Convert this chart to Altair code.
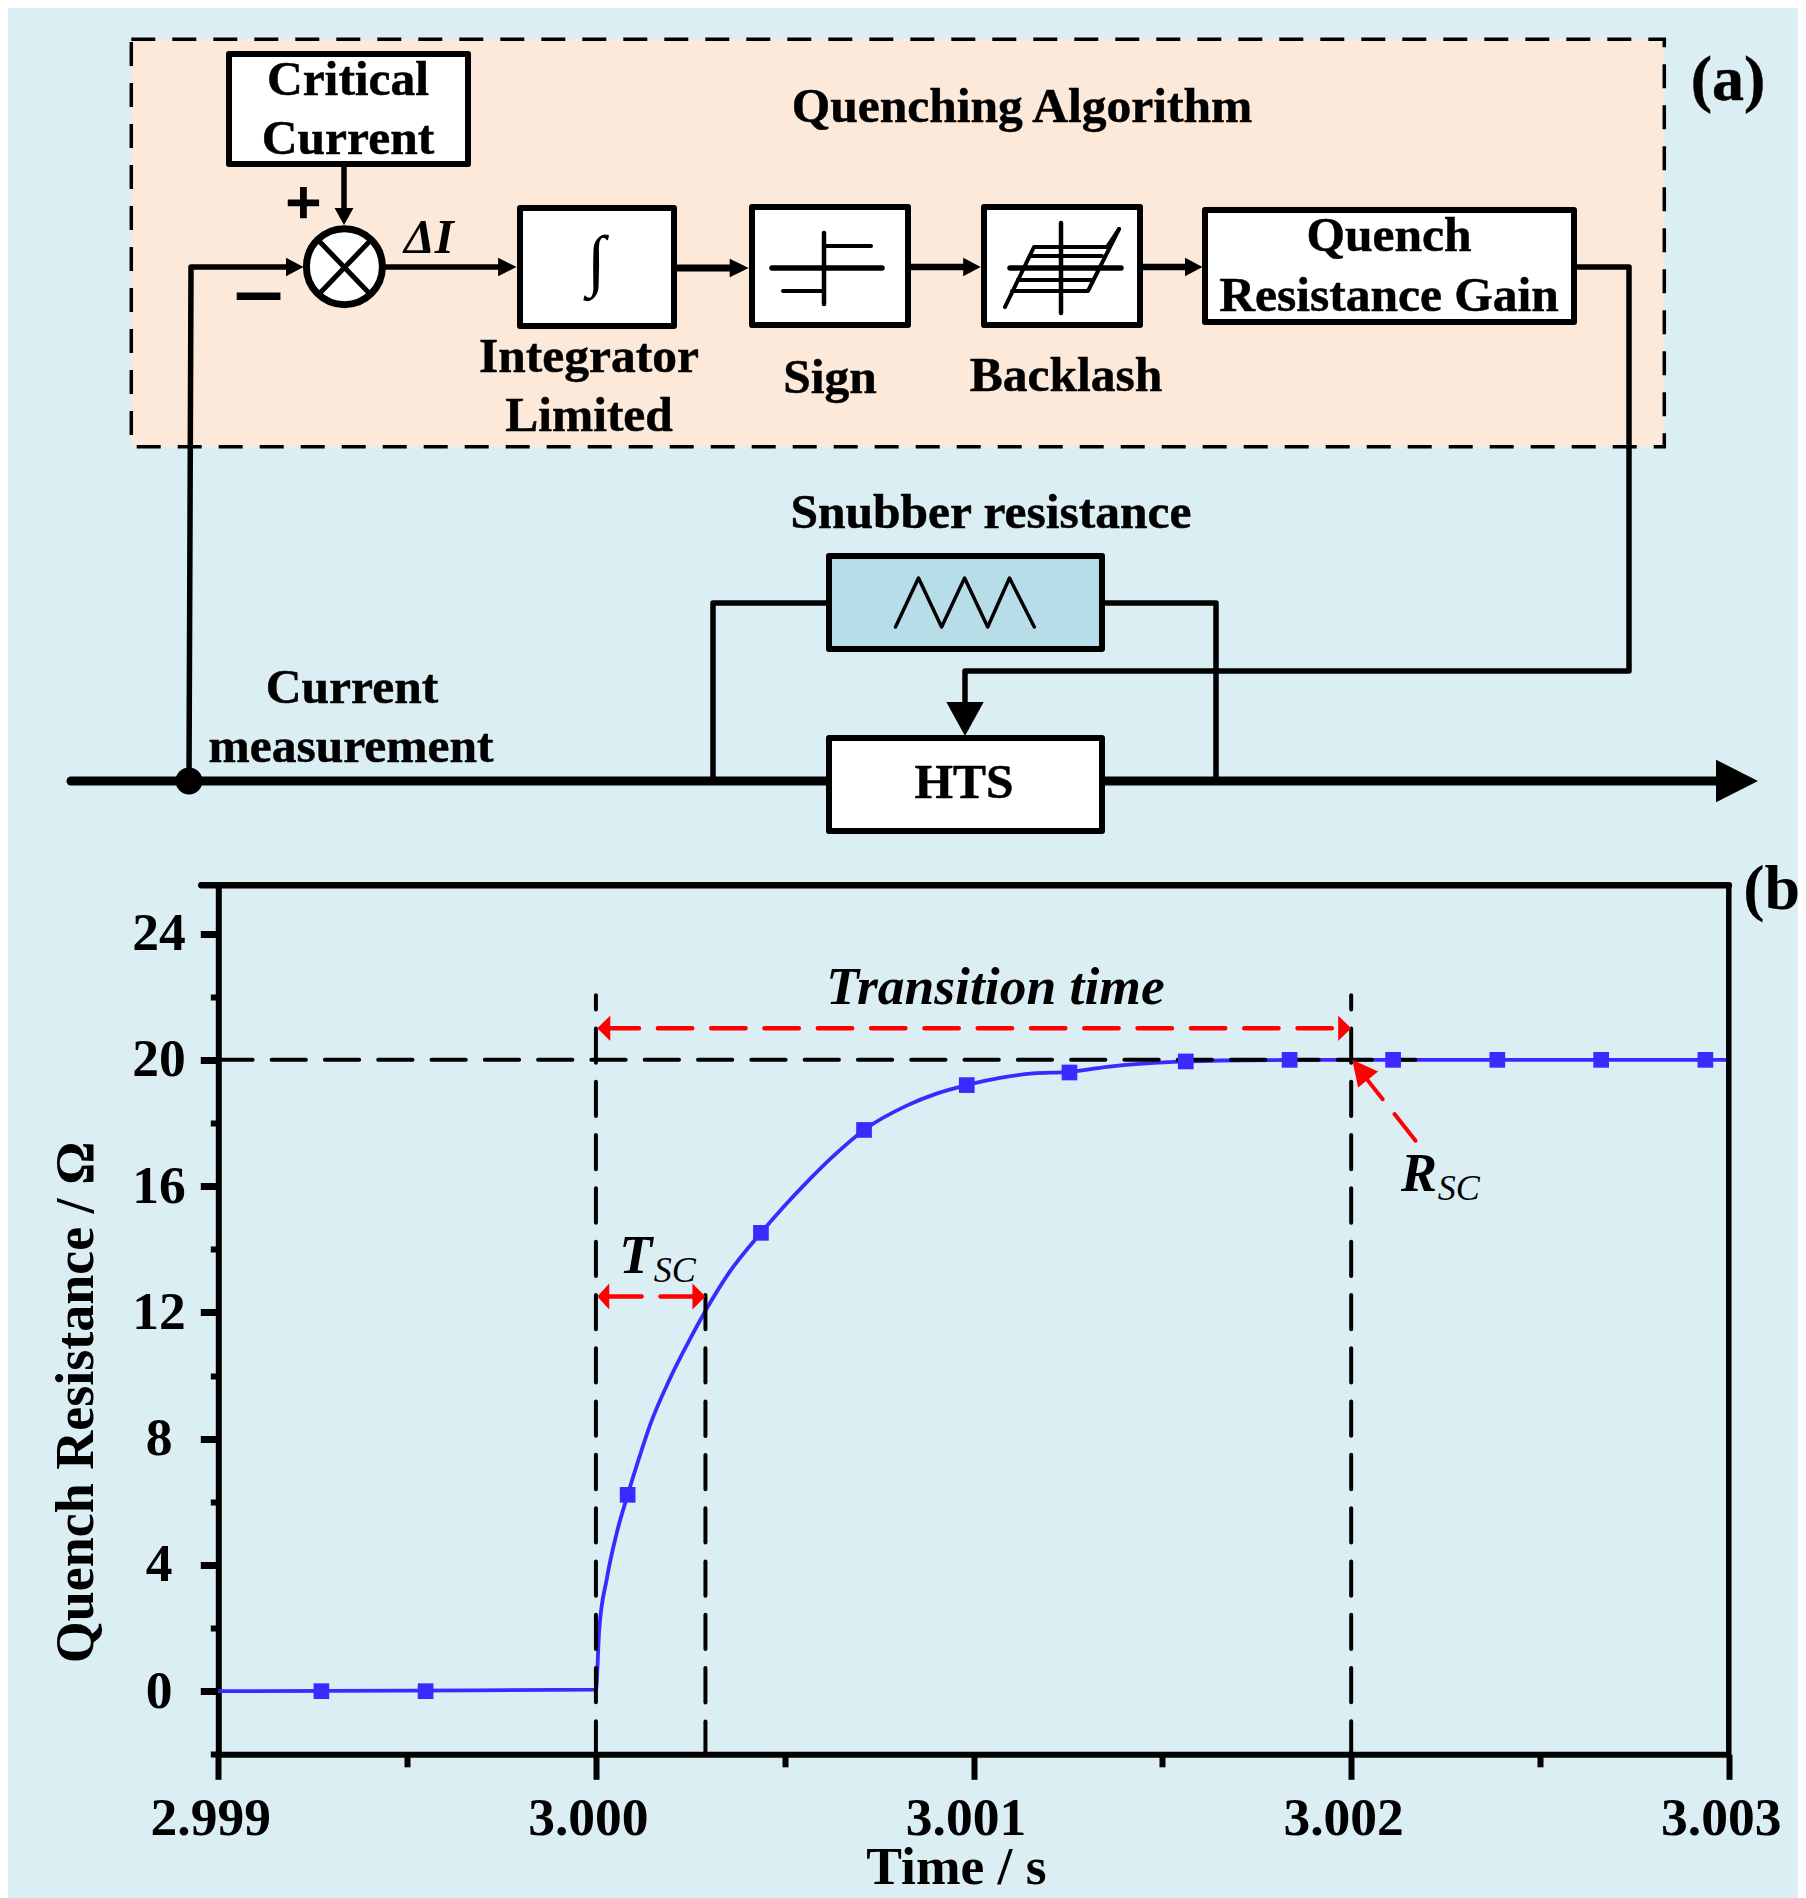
import altair as alt
import pandas as pd

FONT = "Liberation Serif"
BG = "#DAEEF3"
ORANGE = "#FDE9D9"
AQUA = "#B6DDE8"
BLUE = "#3B2AFF"
RED = "#FF0000"

# ---------- curve of panel (b) ----------
LINE_X = [2.999, 2.9995, 3.0, 3.0000087, 3.0000283, 3.0000548, 3.000084, 3.0001165, 3.000143, 3.000196,
          3.000249, 3.000292, 3.000355, 3.000437, 3.000496, 3.000558, 3.0006285, 3.00071, 3.000823,
          3.000902, 3.000982, 3.00107, 3.001158, 3.001254, 3.0013534, 3.001458, 3.001562, 3.001653,
          3.00185, 3.003]
LINE_Y = [0, 0.02, 0.05, 1.94, 3.53, 5.0, 6.22, 7.47, 8.42, 9.9, 11.15, 12.09, 13.3, 14.52, 15.33,
          16.12, 16.95, 17.78, 18.55, 18.93, 19.2, 19.43, 19.57, 19.62, 19.78, 19.89, 19.95, 19.98, 20, 20]
MARK_X = [2.999273, 2.999549, 3.000084, 3.000437, 3.00071, 3.000982, 3.001254, 3.001562, 3.001837,
          3.002111, 3.002387, 3.002662, 3.002938]
MARK_Y = [0, 0, 6.22, 14.52, 17.78, 19.2, 19.6, 19.95, 20, 20, 20, 20, 20]
X_MAJOR = [2.999, 3.0, 3.001, 3.002, 3.003]
X_MINOR = [2.9995, 3.0005, 3.0015, 3.0025]
Y_MAJOR = [0, 4, 8, 12, 16, 20, 24]
Y_MINOR = [-2, 2, 6, 10, 14, 18, 22]
X_DOMAIN = [2.999, 3.003]
Y_DOMAIN = [-2.0, 25.53]

# ---------- schematic of panel (a), in sheet units ----------
BOX_X = [229, 520, 752, 984, 1205, 829, 829]
BOX_X2 = [468, 674, 908, 1140, 1574, 1102, 1102]
BOX_Y = [54, 208, 207, 207, 210, 556, 738]
BOX_Y2 = [164, 326, 325, 325, 322, 649, 831]
BOX_FILL = ["white", "white", "white", "white", "white", AQUA, "white"]

WIRES = [
    ([189, 191, 290], [781, 267, 267], 5.5),
    ([344, 344], [164, 212], 5.5),
    ([385, 500], [267, 267], 5.5),
    ([674, 732], [268, 268], 7),
    ([908, 965], [267, 267], 6.5),
    ([1140, 1187], [267, 267], 6.5),
    ([1574, 1629, 1629, 965, 965], [267, 267, 671, 671, 705], 5.5),
    ([71, 1720], [781, 781], 9),
    ([829, 713, 713], [603, 603, 781], 5.5),
    ([1102, 1216, 1216], [603, 603, 781], 5.5),
]
GLYPHS = [
    ([772, 882], [268, 268], 5.5), ([824, 824], [233, 304], 4.5),
    ([824, 871], [246, 246], 4), ([783, 824], [291, 291], 4),
    ([1010, 1121], [268, 268], 5.5), ([1061, 1061], [223, 313], 4.5),
    ([1119, 1107, 1034, 1005], [229, 247, 247, 307], 4),
    ([1119, 1088, 1012], [229, 291, 291], 4),
    ([1030, 1102], [256, 256], 4), ([1018, 1093], [280, 280], 4),
    ([895.5, 918.5, 941.6, 964.6, 987.7, 1009.5, 1034.3], [627, 578, 627, 578, 627, 578, 627], 3.5),
    ([320, 369], [242, 293], 5), ([369, 320], [242, 293], 5),
]
HEAD_X = [344, 303.5, 516.6, 748.7, 980.7, 1202.5, 965, 1758]
HEAD_Y = [225, 267, 267, 268, 267, 267, 736, 781]
HEAD_PATH = [
    "M0 0 L-9.5 -17 L9.5 -17 Z",
    "M0 0 L-17.5 -9.3 L-17.5 9.3 Z",
    "M0 0 L-18.5 -9.3 L-18.5 9.3 Z",
    "M0 0 L-19 -9.3 L-19 9.3 Z",
    "M0 0 L-17.5 -9.3 L-17.5 9.3 Z",
    "M0 0 L-17.5 -9.3 L-17.5 9.3 Z",
    "M0 0 L-18.7 -34 L18.7 -34 Z",
    "M0 0 L-42 -21.3 L-42 21.3 Z",
]

S_LABELS = ["Critical", "Current", "Quenching Algorithm", "(a)", "Integrator", "Limited", "Sign",
            "Backlash", "Quench", "Resistance Gain", "Snubber resistance", "Current", "measurement", "HTS"]
S_LABEL_X = [348, 348, 1022, 1728, 589, 589, 830, 1066, 1389, 1389, 991, 352, 351, 964]
S_LABEL_Y = [95, 154, 122, 100, 372, 431, 393, 391, 251, 311, 528, 703, 762, 798]
S_LABEL_SIZE = [49.5, 49.5, 49.5, 64, 49.5, 49.5, 49.5, 49.5, 49.5, 49.5, 49.5, 49.5, 49.5, 49.5]
HALF_BOLD = 0.5

# ---------- scales (the page gives the chart 1790 of its width) ----------
CHART_W = 1790
CHART_H = 1890
SX = alt.Scale(domain=[8, 8 + CHART_W], range=[0, CHART_W], zero=False, nice=False)
SY = alt.Scale(domain=[8, 8 + CHART_H], range=[0, CHART_H], zero=False, nice=False)
PX = alt.Scale(domain=X_DOMAIN, range=[210.3, 1720.8], zero=False, nice=False)
PY = alt.Scale(domain=Y_DOMAIN, range=[1746.3, 877.3], zero=False, nice=False)


def sxy(**extra):
    return dict(x=alt.X("x:Q", scale=SX, axis=None), y=alt.Y("y:Q", scale=SY, axis=None), **extra)


def pxy(**extra):
    return dict(x=alt.X("x:Q", scale=PX, axis=None), y=alt.Y("y:Q", scale=PY, axis=None), **extra)


def polylines(items):
    rows = []
    for k, (xs, ys, w) in enumerate(items):
        for i, (a, b) in enumerate(zip(xs, ys)):
            rows.append({"x": a, "y": b, "id": k, "i": i, "w": w})
    return alt.Chart(pd.DataFrame(rows)).mark_line(
        color="black", strokeCap="round", strokeJoin="round"
    ).encode(**sxy(detail="id:N", order="i:Q", strokeWidth=alt.StrokeWidth("w:Q", scale=None)))


def s_text(text, x, y, size, **kw):
    d = pd.DataFrame({"x": [x], "y": [y], "t": [text]})
    return alt.Chart(d).mark_text(font=FONT, fontSize=size, baseline="alphabetic", color="black", **kw).encode(
        **sxy(text="t:N"))


def p_text(text, x, y, size, align="left", **kw):
    d = pd.DataFrame({"x": [x], "y": [y], "t": [text]})
    return alt.Chart(d).mark_text(font=FONT, fontSize=size, baseline="alphabetic", align=align,
                                  color="black", **kw).encode(**pxy(text="t:N"))


def p_rule(x, y, x2, y2, color="black", width=4, dash=None, offset=0):
    d = pd.DataFrame({"x": [x], "y": [y], "x2": [x2], "y2": [y2]})
    kw = {}
    if dash:
        kw = {"strokeDash": dash, "strokeDashOffset": offset}
    return alt.Chart(d).mark_rule(color=color, strokeWidth=width, strokeCap="round", **kw).encode(
        **pxy(x2="x2:Q", y2="y2:Q"))


def p_head(x, y, path, color=RED):
    d = pd.DataFrame({"x": [x], "y": [y], "p": [path]})
    return alt.Chart(d).mark_point(filled=True, size=4, opacity=1, color=color, strokeWidth=0).encode(
        **pxy(shape=alt.Shape("p:N", scale=None)))


layers = []

# orange algorithm block
layers.append(
    alt.Chart(pd.DataFrame({"x": [131.3], "x2": [1664.3], "y": [39.3], "y2": [446.7]}))
    .mark_rect(fill=ORANGE, stroke="black", strokeWidth=3.5, strokeDash=[24, 17])
    .encode(**sxy(x2="x2:Q", y2="y2:Q"))
)
layers.append(polylines(WIRES))
layers.append(
    alt.Chart(pd.DataFrame({"x": BOX_X, "x2": BOX_X2, "y": BOX_Y, "y2": BOX_Y2, "f": BOX_FILL}))
    .mark_rect(stroke="black", strokeWidth=6, strokeJoin="round")
    .encode(**sxy(x2="x2:Q", y2="y2:Q", fill=alt.Fill("f:N", scale=None)))
)
# summing junction and measuring dot
layers.append(
    alt.Chart(pd.DataFrame({"x": [344.4], "y": [266.7]}))
    .mark_point(shape="circle", filled=False, fill="white", fillOpacity=1, opacity=1, stroke="black",
                strokeWidth=7, size=5776)
    .encode(**sxy())
)
layers.append(
    alt.Chart(pd.DataFrame({"x": [189], "y": [781]}))
    .mark_point(shape="circle", filled=True, color="black", opacity=1, size=729)
    .encode(**sxy())
)
layers.append(polylines(GLYPHS))
layers.append(
    alt.Chart(pd.DataFrame({"x": HEAD_X, "y": HEAD_Y, "p": HEAD_PATH}))
    .mark_point(filled=True, size=4, opacity=1, color="black", strokeWidth=0)
    .encode(**sxy(shape=alt.Shape("p:N", scale=None)))
)
layers.append(
    alt.Chart(pd.DataFrame({"x": S_LABEL_X, "y": S_LABEL_Y, "t": S_LABELS, "s": S_LABEL_SIZE}))
    .mark_text(font=FONT, fontWeight="bold", baseline="alphabetic", color="black", stroke="black",
               strokeWidth=HALF_BOLD)
    .encode(**sxy(text="t:N", size=alt.Size("s:Q", scale=None)))
)
layers.append(s_text("\u222b", 596, 283, 68))
layers.append(s_text("\u0394I", 429, 253, 49, fontWeight="bold", fontStyle="italic"))
layers.append(s_text("+", 303.5, 223, 62, fontWeight="bold", stroke="black", strokeWidth=2.5))
layers.append(s_text("\u2212", 258.5, 327, 92, fontWeight="bold", stroke="black", strokeWidth=1))

# panel (b): axes
common_axis = dict(domainColor="black", tickColor="black", labelColor="black", labelFont=FONT,
                   labelFontWeight="bold", labelFontSize=53.5, titleFont=FONT, titleFontWeight="bold",
                   titleColor="black", grid=False)
axis_x = alt.Axis(values=X_MAJOR, format=".3f", orient="bottom", offset=CHART_H * -1 + 1746.3, domainWidth=6,
                  tickWidth=6, tickSize=25, labelPadding=54.7, labelBaseline="alphabetic", labelAlign="center",
                  labelOffset=-8, labelOverlap=False, labelFlush=False, title="Time / s", titleFontSize=53.5,
                  titleX=948, titleY=128.7, titleAlign="center", titleBaseline="alphabetic", titleAnchor=None,
                  **common_axis)
axis_y = alt.Axis(values=Y_MAJOR, format="d", orient="left", offset=-210.3, domainWidth=6, tickWidth=7,
                  tickSize=18, labelPadding=41.7, labelBaseline="middle", labelAlign="center",
                  labelOverlap=False, labelFlush=False, title="Quench Resistance / \u03a9", titleFontSize=54,
                  titleX=-126.3, titleY=1394, titleAngle=270, titleAlign="center",
                  titleBaseline="alphabetic", titleAnchor=None, **common_axis)
axis_x_minor = alt.Axis(values=X_MINOR, orient="bottom", offset=CHART_H * -1 + 1746.3, domain=False, labels=False,
                        tickWidth=6, tickSize=12.5, tickColor="black", title=None, grid=False)
axis_y_minor = alt.Axis(values=Y_MINOR, orient="left", offset=-210.3, domain=False, labels=False, tickWidth=6,
                        tickSize=8, tickColor="black", title=None, grid=False)

curve = pd.DataFrame({"x": LINE_X, "y": LINE_Y})
layers.append(
    alt.Chart(curve).mark_line(color=BLUE, strokeWidth=3.8, interpolate="monotone").encode(
        x=alt.X("x:Q", scale=PX, axis=axis_x), y=alt.Y("y:Q", scale=PY, axis=axis_y))
)
layers.append(
    alt.Chart(curve).mark_line(opacity=0).encode(
        x=alt.X("x:Q", scale=PX, axis=axis_x_minor), y=alt.Y("y:Q", scale=PY, axis=axis_y_minor))
)

# frame
layers.append(p_rule(2.998955, 25.53, 3.003, 25.53, width=6.5))
layers.append(p_rule(3.003, 25.53, 3.003, -2, width=5.5))

# guides
GUIDE_DASH = [34.3, 19]
layers.append(p_rule(3.0, 22.05, 3.0, -2, dash=GUIDE_DASH, offset=20))
layers.append(p_rule(3.00029, 12.55, 3.00029, -2, dash=GUIDE_DASH))
layers.append(p_rule(3.002, 22.05, 3.002, -2, dash=GUIDE_DASH, offset=20))
layers.append(p_rule(2.999, 20, 3.00217, 20, width=4, dash=GUIDE_DASH))

# red arrows
layers.append(p_rule(3.000023, 21, 3.001965, 21, color=RED, width=4.5, dash=GUIDE_DASH))
layers.append(p_head(3.0000035, 21, "M0 0 L13 -12.7 L13 12.7 Z"))
layers.append(p_head(3.002, 21, "M0 0 L-13 -12.7 L-13 12.7 Z"))
layers.append(p_rule(3.00003, 12.5, 3.000258, 12.5, color=RED, width=4.5, dash=GUIDE_DASH))
layers.append(p_head(3.0000035, 12.5, "M0 0 L12 -13 L12 13 Z"))
layers.append(p_head(3.00029, 12.5, "M0 0 L-13 -13 L-13 13 Z"))
layers.append(p_rule(3.002044, 19.35, 3.002171, 17.43, color=RED, width=4, dash=[34, 19], offset=10))
layers.append(p_head(3.002003, 20, "M0 0 L5.8 27.6 L25.8 11.6 Z"))

# markers
layers.append(
    alt.Chart(pd.DataFrame({"x": MARK_X, "y": MARK_Y})).mark_point(
        shape="square", filled=True, color=BLUE, opacity=1, size=246).encode(**pxy())
)

# annotations
layers.append(p_text("Transition time", 3.001058, 21.76, 53.5, align="center", fontWeight="bold", fontStyle="italic"))
layers.append(p_text("T", 3.000062, 13.24, 54, fontWeight="bold", fontStyle="italic"))
layers.append(p_text("SC", 3.000153, 12.97, 36, fontStyle="italic"))
layers.append(p_text("R", 3.002132, 15.83, 54, fontWeight="bold", fontStyle="italic"))
layers.append(p_text("SC", 3.002229, 15.56, 36, fontStyle="italic"))
layers.append(p_text("(b)", 3.003038, 24.78, 64, fontWeight="bold"))

chart = (
    alt.layer(*layers)
    .resolve_scale(x="independent", y="independent")
    .properties(width=CHART_W, height=CHART_H, padding=0, background=BG, autosize=alt.AutoSizeParams(type="none"))
    .configure_view(strokeWidth=0)
)

chart.save("out.html", embed_options={"renderer": "svg", "actions": False})
